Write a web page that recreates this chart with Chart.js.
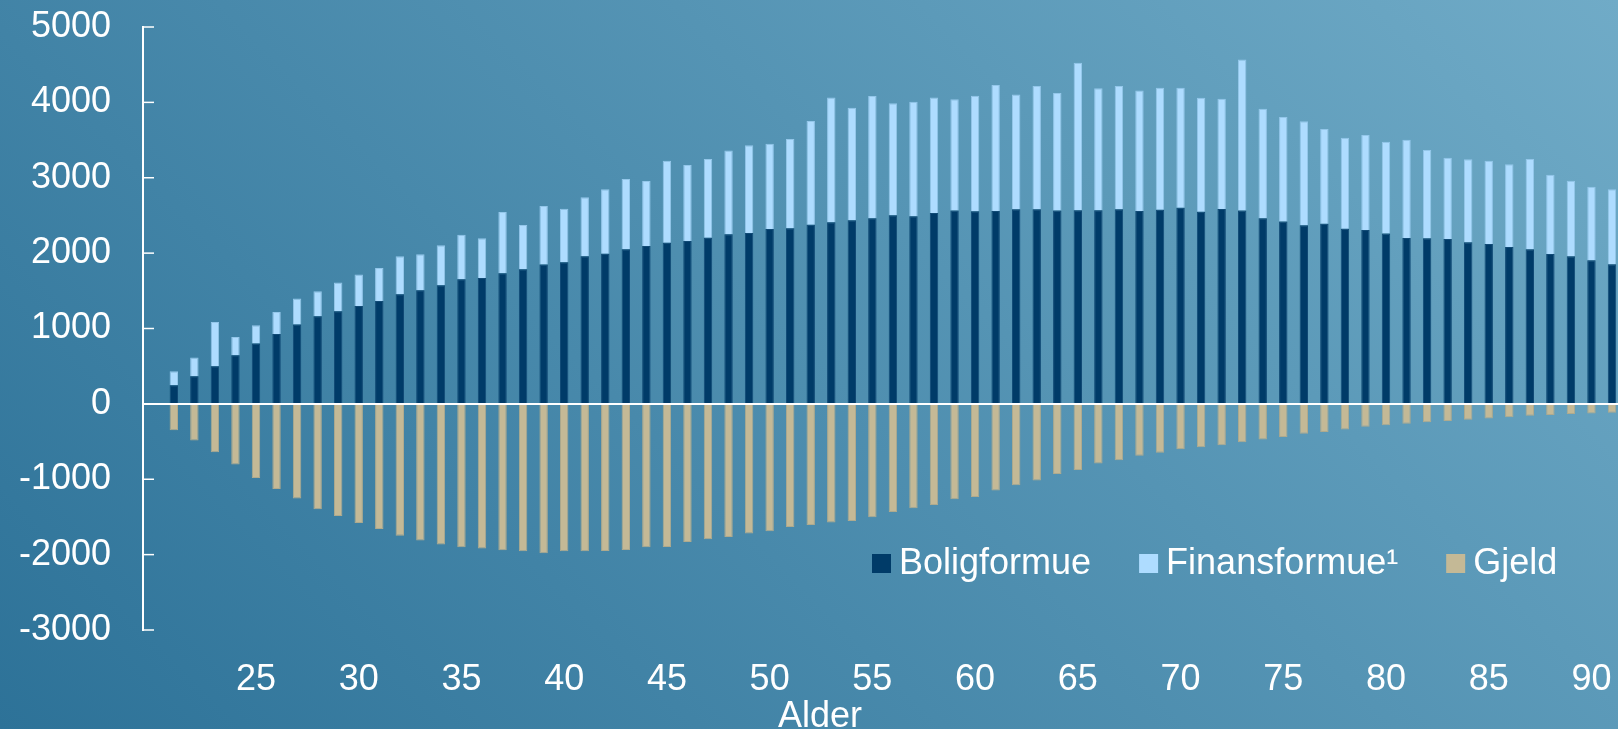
<!DOCTYPE html>
<html>
<head>
<meta charset="utf-8">
<script src="https://cdn.jsdelivr.net/npm/chart.js@4.4.0/dist/chart.umd.min.js"></script>
<style>
  html, body { margin: 0; padding: 0; width: 1618px; height: 729px; overflow: hidden; }
  body { background: linear-gradient(45deg, #2d7298, #70abc7); position: relative; }
  #wrap { position: absolute; left: 0; top: 0; width: 1632px; height: 729px; }
</style>
</head>
<body>
<div id="wrap"><canvas id="formueChart"></canvas></div>
<script>
// alder (age 20 is an empty slot at the start of the axis)
const ages = [20, 21, 22, 23, 24, 25, 26, 27, 28, 29, 30, 31, 32, 33, 34, 35, 36, 37, 38, 39, 40,
  41, 42, 43, 44, 45, 46, 47, 48, 49, 50, 51, 52, 53, 54, 55, 56, 57, 58, 59, 60,
  61, 62, 63, 64, 65, 66, 67, 68, 69, 70, 71, 72, 73, 74, 75, 76, 77, 78, 79, 80,
  81, 82, 83, 84, 85, 86, 87, 88, 89, 90, 91];

const boligformue = [null,
  248, 367, 499, 645, 800, 928, 1052, 1162, 1229, 1299,
  1366, 1454, 1507, 1573, 1653, 1671, 1733, 1786, 1848, 1878,
  1958, 1993, 2051, 2095, 2139, 2161, 2205, 2250, 2267, 2320,
  2329, 2378, 2409, 2435, 2462, 2502, 2488, 2533, 2564, 2555,
  2559, 2581, 2581, 2564, 2568, 2568, 2581, 2559, 2577, 2603,
  2550, 2586, 2564, 2462, 2418, 2369, 2391, 2325, 2307, 2259,
  2201, 2197, 2188, 2144, 2122, 2082, 2051, 1989, 1958, 1905, 1852];

const finansformue = [null,
  185, 247, 588, 243, 243, 292, 345, 332, 380, 416,
  437, 504, 478, 531, 592, 526, 813, 587, 777, 712,
  782, 853, 932, 862, 1087, 1008, 1044, 1113, 1163, 1132,
  1185, 1374, 1657, 1494, 1622, 1485, 1521, 1533, 1476, 1533,
  1671, 1525, 1636, 1560, 1958, 1618, 1636, 1600, 1617, 1591,
  1512, 1463, 2006, 1454, 1388, 1379, 1255, 1207, 1260, 1219,
  1304, 1171, 1078, 1100, 1105, 1096, 1198, 1052, 1003, 977, 994];

const gjeld = [null,
  -350, -487, -642, -805, -982, -1128, -1257, -1398, -1487, -1580,
  -1659, -1748, -1814, -1867, -1903, -1920, -1942, -1956, -1982, -1956,
  -1956, -1951, -1938, -1903, -1898, -1832, -1796, -1765, -1721, -1690,
  -1633, -1606, -1575, -1553, -1504, -1434, -1385, -1341, -1265, -1235,
  -1150, -1080, -1018, -929, -876, -792, -748, -688, -650, -602,
  -575, -549, -509, -473, -438, -398, -372, -341, -305, -283,
  -265, -243, -226, -212, -195, -177, -159, -146, -133, -128, -119];

const yMin = -3000, yMax = 5000, yStep = 1000;
const FONT = 'Liberation Sans, Arial, sans-serif';

// small inward tick marks on the y axis
const innerTicks = {
  id: 'innerTicks',
  afterDraw(chart) {
    const { ctx, chartArea, scales: { y } } = chart;
    ctx.save();
    ctx.strokeStyle = '#ffffff';
    ctx.lineWidth = 1.5;
    y.ticks.forEach(t => {
      const py = y.getPixelForValue(t.value);
      ctx.beginPath();
      ctx.moveTo(chartArea.left, py);
      ctx.lineTo(chartArea.left + 11, py);
      ctx.stroke();
    });
    ctx.restore();
  }
};

// legend row inside the plot + the "Alder" caption
const legendRow = {
  id: 'legendRow',
  afterDraw(chart) {
    const ctx = chart.ctx;
    ctx.save();
    ctx.font = '36px ' + FONT;
    ctx.textBaseline = 'alphabetic';
    let x = 872;
    chart.data.datasets.forEach(ds => {
      ctx.fillStyle = ds.backgroundColor;
      ctx.fillRect(x, 554, 19, 19);
      ctx.fillStyle = '#ffffff';
      ctx.fillText(ds.label, x + 27, 574);
      x += 27 + ctx.measureText(ds.label).width + 48;
    });
    ctx.textAlign = 'center';
    ctx.fillText('Alder', 820, 727);
    ctx.restore();
  }
};

const ctx = document.getElementById('formueChart').getContext('2d');
new Chart(ctx, {
  type: 'bar',
  data: {
    labels: ages,
    datasets: [
      { label: 'Boligformue', data: boligformue, backgroundColor: '#003b68', borderColor: '#114b76', borderWidth: 1 },
      { label: 'Finansformue\u00b9', data: finansformue, backgroundColor: '#aedcff', borderColor: '#94c7ea', borderWidth: 1 },
      { label: 'Gjeld', data: gjeld, backgroundColor: '#c4b996', borderColor: '#aeaa8e', borderWidth: 1 }
    ]
  },
  options: {
    responsive: true,
    maintainAspectRatio: false,
    animation: false,
    datasets: { bar: { barPercentage: 0.41, categoryPercentage: 1 } },
    layout: { padding: { top: 27, right: 0, bottom: 0, left: 0 } },
    plugins: { legend: { display: false }, tooltip: { enabled: false } },
    scales: {
      x: {
        stacked: true,
        grid: { display: false },
        border: { display: false },
        ticks: {
          color: '#ffffff',
          font: { family: FONT, size: 36 },
          autoSkip: false,
          maxRotation: 0,
          padding: 20,
          callback: function (value, index) {
            const a = ages[index];
            return (a % 5 === 0 && a > 20) ? String(a) : '';
          }
        },
        afterFit: scale => { scale.height = 99; }
      },
      y: {
        stacked: true,
        min: yMin,
        max: yMax,
        ticks: {
          stepSize: yStep,
          color: '#ffffff',
          font: { family: FONT, size: 36 },
          padding: 0,
          callback: v => String(v)
        },
        grid: {
          drawTicks: true,
          tickLength: 32,
          tickColor: 'rgba(0,0,0,0)',
          color: c => (c.tick && c.tick.value === 0) ? '#ffffff' : 'rgba(0,0,0,0)',
          lineWidth: 2
        },
        border: { color: '#ffffff', width: 2 },
        afterFit: scale => { scale.width = 143; }
      }
    }
  },
  plugins: [innerTicks, legendRow]
});
</script>
</body>
</html>
